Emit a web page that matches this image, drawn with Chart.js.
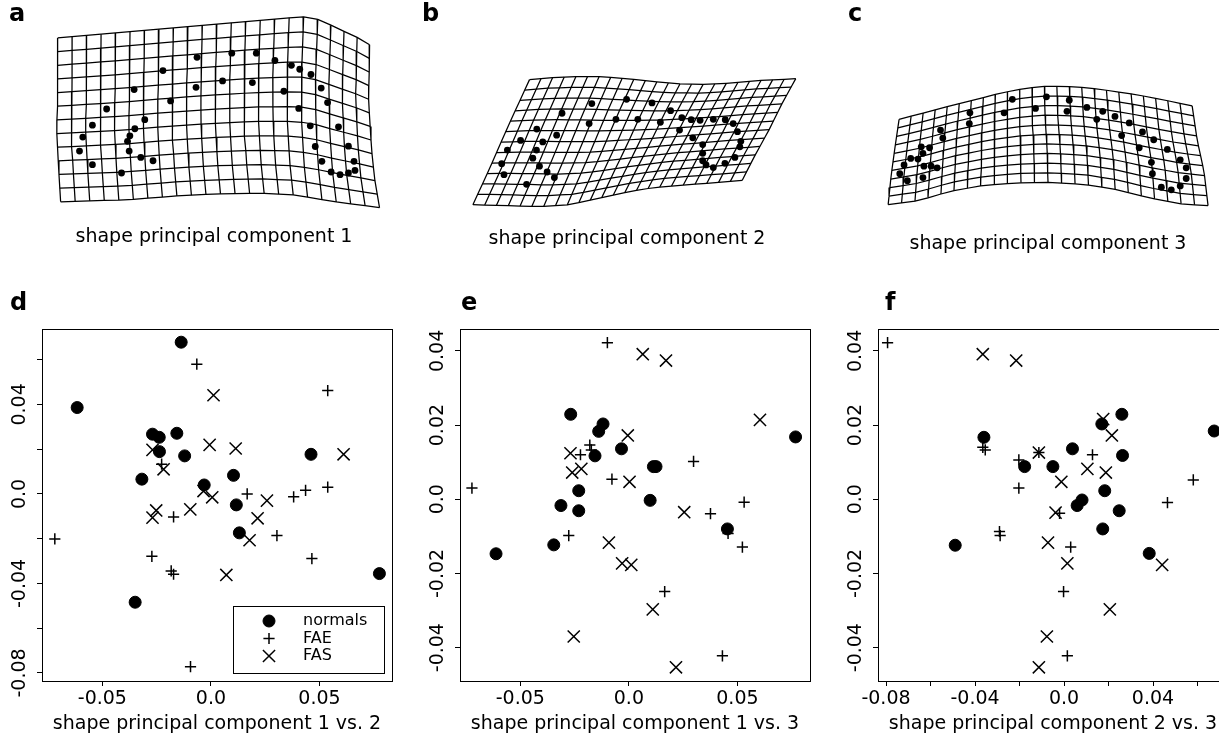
<!DOCTYPE html>
<html>
<head>
<meta charset="utf-8">
<script src="https://cdn.jsdelivr.net/npm/chart.js@4.4.0/dist/chart.umd.min.js"></script>
<style>
  html, body { margin: 0; padding: 0; background: #fff; overflow: hidden; }
  #wrap { position: relative; width: 1219px; height: 734px; overflow: hidden; }
  canvas { position: absolute; }
  .letter { position: absolute; font: bold 24px "DejaVu Sans"; line-height: 1; color: #000; }
  .cap { position: absolute; font: 19px "DejaVu Sans"; line-height: 1; color: #000; white-space: nowrap; transform: translateX(-50%); }
</style>
</head>
<body>
<div id="wrap">
  <canvas id="grids" width="1219" height="262" style="left:0;top:0;width:1219px;height:262px"></canvas>
  <canvas id="chartD" width="410" height="464" style="left:0;top:270px;width:410px;height:464px"></canvas>
  <canvas id="chartE" width="410" height="464" style="left:410px;top:270px;width:410px;height:464px"></canvas>
  <canvas id="chartF" width="430" height="464" style="left:810px;top:270px;width:430px;height:464px"></canvas>

  <div class="letter" style="left:9px;top:1px">a</div>
  <div class="letter" style="left:422px;top:1px">b</div>
  <div class="letter" style="left:848px;top:1px">c</div>
  <div class="letter" style="left:10px;top:290px">d</div>
  <div class="letter" style="left:461px;top:290px">e</div>
  <div class="letter" style="left:885px;top:290px">f</div>

  <div class="cap" style="left:214px;top:226px">shape principal component 1</div>
  <div class="cap" style="left:627px;top:228px">shape principal component 2</div>
  <div class="cap" style="left:1048px;top:233px">shape principal component 3</div>
</div>

<script>
// ---- warped grids (outline of each deformed grid, page pixels) ----
const aTop = [[54,35],[100,31],[167,25],[233,19],[290,14],[306,13],[320,17],[335,25],[353,33],[368,42]];
const aBottom = [[57,204],[90,203],[123,202],[173,198],[213,196],[257,195],[293,197],[333,204],[378,210]];
const aLeft = [[54,35],[54,90],[53,130],[55,170],[57,204]];
const aRight = [[368,42],[367,100],[370,150],[373,180],[378,210]];

const bTop = [[529,78],[550,76],[573,75],[600,75],[627,77],[653,80],[680,82.5],[707,83],[733,81.5],[760,79],[797,77]];
const bBottom = [[472,207],[507,208],[540,209],[570,207],[600,200],[627,194],[653,189.5],[680,187],[707,185],[743,182]];
const bLeft = [[529,78],[507,127],[490,167],[472,207]];
const bRight = [[797,77],[783,103],[770,130],[756,156],[743,182]];

const cTop = [[901,119],[927,112],[953,105],[980,98],[1003,92],[1027,87],[1047,85],[1067,85],[1087,86],[1110,89],[1137,93],[1163,98],[1196,105]];
const cBottom = [[890,207],[920,203],[953,193],[987,187],[1020,184.5],[1053,184],[1087,186],[1120,191.5],[1153,200],[1187,206.5],[1212,208]];
const cLeft = [[901,119],[897,147],[893,177],[890,207]];
const cRight = [[1196,105],[1201,140],[1208,173],[1212,208]];

// landmarks on each grid
const aDots = [[194.3,55],[229.3,50.7],[254,50.7],[272.7,58.3],[289.3,63.3],[297.7,67.3],[309,72.7],[160,68.7],[220,79.3],[250,81],
  [193.3,86],[131,88.3],[281.7,90],[319.3,86.7],[167.7,100],[325.7,101.7],[103.3,108.3],[296.7,107.7],[141.7,119.3],[89,125],
  [131.7,128.7],[308.3,125.7],[336.7,126.7],[79.3,137.3],[126.7,136],[124.3,141.7],[313.3,147],[346.7,146.7],[76,151.7],[126,151.7],
  [137.7,158.3],[150,161.7],[320,162.3],[352.3,162.3],[89,165.7],[118.3,174.3],[329.3,173.3],[338.3,176],[346.7,174.3],[353.3,171.7]];
const bDots = [[591.7,102.7],[626.7,98.3],[652.3,102],[671,110],[682.3,117.3],[691.7,119.3],[700.7,120],[714,119],[726,119.3],[734,123.3],
  [738.3,131.7],[741.7,141.7],[740.7,147.3],[735.7,158.3],[725.7,164.3],[714,168.7],[706.7,166],[703.3,161.7],[703.3,154],[703.3,145],
  [693.3,138],[680,130],[660.7,122],[638,119],[616,119],[589,123.3],[561.7,112.7],[536.3,129],[556.3,135.3],[520,140.7],
  [542.3,142.3],[506.7,150.7],[536,150.7],[532.3,159],[501,164.7],[539,167.3],[503.3,176],[546.7,173.3],[554,179],[526,186]];
const cDots = [[1015,98.3],[1049.3,95.7],[1072.3,99.3],[1090,106.7],[1106,110.7],[1118.3,116],[1132.7,122.7],[1146,132],[1157.3,140],[1171,150],
  [1184,160.7],[1190,169],[1190,180],[1184,187.7],[1175,191.7],[1165,189],[1156,175],[1155,163.3],[1142.7,148.3],[1125,135.7],
  [1100,119],[1070,110.7],[1038.3,107.7],[1006.7,112.3],[972.3,112.3],[971.7,123.3],[942.7,130],[945,138.3],[931.7,148.3],[923.3,147.3],
  [925,154],[912.7,159.3],[920,160],[906,166],[926,167.3],[933.3,167.3],[939.3,169],[901.7,175],[909.3,182.3],[925,179]];

// ---- scores: d = PC1 vs PC2, e = PC1 vs PC3, f = PC2 vs PC3 ----
const groups = ["normals", "FAE", "FAS"];

const dNormals = [[-0.0137,0.0678],[-0.0616,0.0386],[-0.0269,0.0267],[-0.0238,0.0253],[-0.0157,0.0271],[-0.0237,0.0189],[-0.0121,0.0170],
  [-0.0318,0.0066],[-0.0031,0.0040],[0.0104,0.0083],[0.0117,-0.0049],[0.0131,-0.0174],[0.0461,0.0177],[0.0776,-0.0356],[-0.0349,-0.0484]];
const dFAE = [[-0.0065,0.0580],[0.0538,0.0462],[-0.0719,-0.0201],[0.0167,0.0000],[0.0381,-0.0013],[0.0436,0.0016],[0.0538,0.0030],
  [0.0304,-0.0186],[-0.0172,-0.0103],[-0.0272,-0.0279],[-0.0183,-0.0344],[-0.0172,-0.0359],[0.0465,-0.0289],[-0.0094,-0.0772],[-0.0227,0.0133]];
const dFAS = [[0.0012,0.0441],[-0.0006,0.0219],[0.0114,0.0203],[0.0611,0.0177],[-0.0269,0.0197],[-0.0218,0.0110],[-0.0252,-0.0074],
  [-0.0269,-0.0106],[-0.0095,-0.0069],[-0.0034,0.0013],[0.0006,-0.0015],[0.0258,-0.0030],[0.0215,-0.0109],[0.0178,-0.0207],[0.0071,-0.0362]];

const eNormals = [[-0.0268,0.0229],[-0.0119,0.0203],[-0.0139,0.0183],[-0.0156,0.0117],[-0.0034,0.0136],[0.0125,0.0088],[0.0113,0.0088],
  [-0.0231,0.0023],[-0.0313,-0.0017],[-0.0231,-0.0031],[0.0098,-0.0003],[-0.0346,-0.0123],[-0.0612,-0.0147],[0.0454,-0.0080],[0.0768,0.0168]];
const eFAE = [[-0.0099,0.0422],[-0.0723,0.0030],[-0.0180,0.0146],[-0.0173,0.0133],[-0.0223,0.0120],[-0.0078,0.0054],[0.0298,0.0102],
  [0.0376,-0.0039],[0.0531,-0.0008],[0.0523,-0.0129],[-0.0277,-0.0098],[0.0165,-0.0249],[0.0431,-0.0422],[0.0457,-0.0092]];
const eFAS = [[0.0064,0.0391],[0.0171,0.0374],[0.0604,0.0214],[-0.0005,0.0172],[-0.0269,0.0124],[-0.0261,0.0072],[-0.0219,0.0082],
  [0.0003,0.0047],[0.0255,-0.0035],[-0.0092,-0.0117],[-0.0031,-0.0173],[0.0011,-0.0177],[0.0110,-0.0297],[-0.0254,-0.0370],[0.0217,-0.0453]];

const fNormals = [[-0.0360,0.0167],[-0.0177,0.0088],[-0.0050,0.0088],[0.0038,0.0136],[0.0170,0.0203],[0.0260,0.0229],[0.0263,0.0118],
  [0.0183,0.0023],[0.0081,-0.0002],[0.0059,-0.0017],[0.0248,-0.0031],[0.0174,-0.0080],[0.0383,-0.0146],[-0.0489,-0.0124],[0.0675,0.0184]];
const fFAE = [[-0.0793,0.0422],[-0.0365,0.0140],[-0.0354,0.0133],[-0.0203,0.0106],[-0.0203,0.0030],[-0.0290,-0.0087],[-0.0287,-0.0098],
  [0.0128,0.0120],[-0.0020,-0.0038],[0.0030,-0.0129],[-0.0002,-0.0249],[0.0015,-0.0422],[0.0465,-0.0009],[0.0581,0.0052],[-0.0113,0.0126]];
const fFAS = [[-0.0365,0.0391],[-0.0215,0.0374],[0.0176,0.0216],[0.0215,0.0172],[-0.0113,0.0126],[0.0105,0.0082],[0.0188,0.0072],
  [-0.0012,0.0047],[-0.0038,-0.0036],[-0.0072,-0.0117],[0.0015,-0.0173],[0.0441,-0.0177],[0.0206,-0.0297],[-0.0077,-0.0370],[-0.0113,-0.0453]];

// axis ranges and titles
const pc1Range = [-0.0778, 0.0834];
const pc2Range = [-0.0836, 0.0737];
const pc3Range = [-0.049, 0.0459];
const xTitles = ["shape principal component 1 vs. 2", "shape principal component 1 vs. 3", "shape principal component 2 vs. 3"];

const FONT = "DejaVu Sans";
Chart.defaults.font.family = FONT;
Chart.defaults.color = "#000";
Chart.defaults.animation = false;

// point at fraction t of a polyline's length
function along(poly, t) {
  const seg = [];
  let total = 0;
  for (let i = 1; i < poly.length; i++) {
    const d = Math.hypot(poly[i][0] - poly[i - 1][0], poly[i][1] - poly[i - 1][1]);
    seg.push(d);
    total += d;
  }
  let s = t * total;
  for (let i = 0; i < seg.length; i++) {
    if (s <= seg[i] || i === seg.length - 1) {
      const f = seg[i] ? Math.min(1, s / seg[i]) : 0;
      return [poly[i][0] + f * (poly[i + 1][0] - poly[i][0]), poly[i][1] + f * (poly[i + 1][1] - poly[i][1])];
    }
    s -= seg[i];
  }
}

// grid lines inside the four outline curves (Coons patch)
function gridLines(top, bottom, left, right, cols, rows) {
  const c00 = top[0], c10 = top[top.length - 1], c01 = bottom[0], c11 = bottom[bottom.length - 1];
  const node = (u, v) => {
    const T = along(top, u), B = along(bottom, u), L = along(left, v), R = along(right, v);
    return [0, 1].map(k => (1 - v) * T[k] + v * B[k] + (1 - u) * L[k] + u * R[k]
      - ((1 - u) * (1 - v) * c00[k] + u * (1 - v) * c10[k] + (1 - u) * v * c01[k] + u * v * c11[k]));
  };
  const lines = [];
  for (let j = 0; j <= rows; j++) {
    const pts = [];
    for (let i = 0; i <= cols; i++) pts.push(node(i / cols, j / rows));
    lines.push(pts);
  }
  for (let i = 0; i <= cols; i++) {
    const pts = [];
    for (let j = 0; j <= rows; j++) pts.push(node(i / cols, j / rows));
    lines.push(pts);
  }
  return lines;
}

const toXY = arr => arr.map(([x, y]) => ({ x, y }));

const gridDatasets = [];
[
  gridLines(aTop, aBottom, aLeft, aRight, 22, 12),
  gridLines(bTop, bBottom, bLeft, bRight, 23, 12),
  gridLines(cTop, cBottom, cLeft, cRight, 24, 10)
].forEach(lines => {
  lines.forEach(pts => {
    gridDatasets.push({
      data: toXY(pts), showLine: true, borderColor: "#000", borderWidth: 1.25,
      pointRadius: 0, fill: false, tension: 0
    });
  });
});
[aDots, bDots, cDots].forEach(dots => {
  gridDatasets.push({ data: toXY(dots), pointRadius: 3.4, pointBorderWidth: 0, backgroundColor: "#000", borderColor: "#000" });
});

new Chart(document.getElementById("grids"), {
  type: "scatter",
  data: { datasets: gridDatasets },
  options: {
    responsive: false,
    layout: { padding: 0 },
    plugins: { legend: { display: false }, tooltip: { enabled: false } },
    scales: {
      x: { display: false, min: 0, max: 1219 },
      y: { display: false, min: 0, max: 262, reverse: true }
    }
  }
});

// ---- score plots ----
const frame = {
  id: "frame",
  beforeDatasetsDraw(chart) {
    const { ctx, chartArea: a } = chart;
    ctx.save();
    ctx.strokeStyle = "#000";
    ctx.lineWidth = 1;
    ctx.strokeRect(Math.round(a.left) + 0.5, Math.round(a.top) + 0.5,
      Math.round(a.right - a.left), Math.round(a.bottom - a.top));
    ctx.restore();
  }
};

const keyBox = {
  id: "keyBox",
  afterDatasetsDraw(chart) {
    const { ctx, chartArea: a } = chart;
    const w = 151, h = 67;
    const x0 = Math.round(a.right - 8 - w), y0 = Math.round(a.bottom - 8 - h);
    ctx.save();
    ctx.fillStyle = "#fff";
    ctx.fillRect(x0, y0, w, h);
    ctx.strokeStyle = "#000";
    ctx.lineWidth = 1;
    ctx.strokeRect(x0 + 0.5, y0 + 0.5, w, h);
    chart.data.datasets.forEach((ds, i) => {
      const y = y0 + 15 + i * 17.5;
      ctx.fillStyle = "#000";
      ctx.strokeStyle = "#000";
      ctx.lineWidth = ds.pointBorderWidth;
      Chart.helpers.drawPoint(ctx, {
        pointStyle: ds.pointStyle, radius: ds.pointRadius,
        borderWidth: ds.pointBorderWidth, rotation: 0
      }, x0 + 36, y);
      ctx.font = "16px \"" + FONT + "\"";
      ctx.textAlign = "left";
      ctx.textBaseline = "middle";
      ctx.fillText(ds.label, x0 + 70, y);
    });
    ctx.restore();
  }
};

function tickLabel(every) {
  return value => {
    const k = Math.round(value * 100);
    if (k % every !== 0) return "";
    return k === 0 ? "0.0" : (k / 100).toFixed(2);
  };
}

function scorePlot(id, sets, xr, yr, xStep, xEvery, yStep, yEvery, title, axisWidth, padRight, withKey) {
  const styles = [
    { pointStyle: "circle", pointRadius: 6, pointBorderWidth: 1 },
    { pointStyle: "cross", pointRadius: 5.6, pointBorderWidth: 1.5 },
    { pointStyle: "crossRot", pointRadius: 8.6, pointBorderWidth: 1.5 }
  ];
  const datasets = sets.map((pts, i) => Object.assign({
    label: groups[i], data: toXY(pts), backgroundColor: "#000", borderColor: "#000", clip: false
  }, styles[i]));

  const tickMarks = { display: true, drawOnChartArea: false, drawTicks: true, tickLength: 5, tickColor: "#000", tickWidth: 1 };
  const chartH = 464;
  const bottomPx = 411;

  new Chart(document.getElementById(id), {
    type: "scatter",
    data: { datasets },
    options: {
      responsive: false,
      layout: { padding: { top: 59, right: padRight, left: 0, bottom: 0 } },
      plugins: { legend: { display: false }, tooltip: { enabled: false } },
      scales: {
        x: {
          type: "linear", min: xr[0], max: xr[1],
          border: { display: false },
          grid: tickMarks,
          ticks: {
            stepSize: xStep, includeBounds: false, autoSkip: false, maxRotation: 0, minRotation: 0,
            padding: 2, color: "#000", font: { size: 19 }, callback: tickLabel(xEvery)
          },
          title: { display: true, text: title, color: "#000", font: { size: 19, lineHeight: 1 }, padding: { top: 0, bottom: 0 } },
          afterFit: s => { s.height = chartH - bottomPx; }
        },
        y: {
          type: "linear", min: yr[0], max: yr[1],
          border: { display: false },
          grid: tickMarks,
          ticks: {
            stepSize: yStep, includeBounds: false, autoSkip: false, minRotation: 90, maxRotation: 90,
            crossAlign: "center", padding: -7.6, color: "#000", font: { size: 19 }, callback: tickLabel(yEvery)
          },
          afterFit: s => { s.width = axisWidth; }
        }
      }
    },
    plugins: withKey ? [frame, keyBox] : [frame]
  });
}

scorePlot("chartD", [dNormals, dFAE, dFAS], pc1Range, pc2Range, 0.05, 1, 0.02, 4, xTitles[0], 42, 18, true);
scorePlot("chartE", [eNormals, eFAE, eFAS], pc1Range, pc3Range, 0.05, 1, 0.02, 2, xTitles[1], 50, 10, false);
scorePlot("chartF", [fNormals, fFAE, fFAS], pc2Range, pc3Range, 0.02, 4, 0.02, 2, xTitles[2], 68, 12, false);
</script>
</body>
</html>
